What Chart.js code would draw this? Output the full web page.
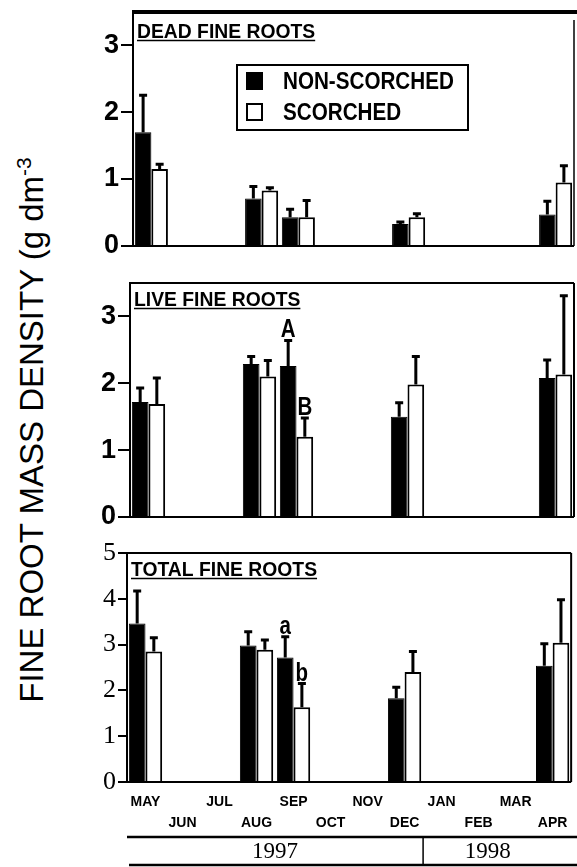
<!DOCTYPE html>
<html>
<head>
<meta charset="utf-8">
<script src="https://cdn.jsdelivr.net/npm/chart.js@4.4.1/dist/chart.umd.min.js"></script>
<style>
  html, body { margin: 0; padding: 0; background: #fff; }
  #page { position: relative; width: 577px; height: 867px; overflow: hidden; }
  canvas { position: absolute; left: 0; }
  #ytitle {
    position: absolute; left: 31px; top: 430px;
    transform: translate(-50%, -50%) rotate(-90deg);
    white-space: nowrap; color: #000;
    font: 33px "Liberation Sans", Arial, sans-serif;
  }
  #ytitle sup { font-size: 21px; }
</style>
</head>
<body>
<div id="page">
  <div id="ytitle">FINE ROOT MASS DENSITY (g dm<sup>-3</sup></div>
  <canvas id="dead" width="577" height="260" style="top:0"></canvas>
  <canvas id="live" width="577" height="260" style="top:270px"></canvas>
  <canvas id="total" width="577" height="327" style="top:540px"></canvas>
</div>
<script>
// months sampled May 1997 - Apr 1998; labels alternate between two rows
const months = ["MAY", "JUN", "JUL", "AUG", "SEP", "OCT", "NOV", "DEC", "JAN", "FEB", "MAR", "APR"];
const years = ["1997", "1998"];
const yearFirstMonth = [0, 8];
const seriesNames = ["NON-SCORCHED", "SCORCHED"];
const deadTicks = [0, 1, 2, 3];
const liveTicks = [0, 1, 2, 3];
const totalTicks = [0, 1, 2, 3, 4, 5];

// dead fine roots (g dm-3) and upper error
const deadNonScorched = [1.70, null, null, 0.71, 0.43, null, null, 0.33, null, null, null, 0.47];
const deadNonScorchedErr = [0.55, null, null, 0.18, 0.12, null, null, 0.03, null, null, null, 0.20];
const deadScorched = [1.15, null, null, 0.83, 0.43, null, null, 0.43, null, null, null, 0.95];
const deadScorchedErr = [0.07, null, null, 0.04, 0.25, null, null, 0.05, null, null, null, 0.25];

// live fine roots
const liveNonScorched = [1.72, null, null, 2.29, 2.26, null, null, 1.50, null, null, null, 2.08];
const liveNonScorchedErr = [0.21, null, null, 0.11, 0.38, null, null, 0.21, null, null, null, 0.27];
const liveScorched = [1.69, null, null, 2.10, 1.20, null, null, 1.98, null, null, null, 2.13];
const liveScorchedErr = [0.39, null, null, 0.24, 0.28, null, null, 0.42, null, null, null, 1.18];
const liveNonScorchedSig = ["", "", "", "", "A", "", "", "", "", "", "", ""];
const liveScorchedSig = ["", "", "", "", "B", "", "", "", "", "", "", ""];

// total fine roots
const totalNonScorched = [3.46, null, null, 2.98, 2.72, null, null, 1.83, null, null, null, 2.54];
const totalNonScorchedErr = [0.71, null, null, 0.30, 0.45, null, null, 0.24, null, null, null, 0.48];
const totalScorched = [2.85, null, null, 2.89, 1.63, null, null, 2.40, null, null, null, 3.04];
const totalScorchedErr = [0.30, null, null, 0.21, 0.52, null, null, 0.45, null, null, null, 0.94];
const totalNonScorchedSig = ["", "", "", "", "a", "", "", "", "", "", "", ""];
const totalScorchedSig = ["", "", "", "", "b", "", "", "", "", "", "", ""];

const monthLabels = months.map((m, i) => (i % 2 === 0 ? m : ["", m]));

// condensed text, the original uses a narrow helvetica
function narrowText(ctx, text, x, y, font, sx, align) {
  ctx.save();
  ctx.font = font;
  ctx.textAlign = align || "left";
  ctx.translate(x, y);
  ctx.scale(sx, 1);
  ctx.fillText(text, 0, 0);
  const w = ctx.measureText(text).width * sx;
  ctx.restore();
  return w;
}

const panelPlugin = {
  id: "panel",
  afterDatasetsDraw(chart, args, opts) {
    const ctx = chart.ctx;
    const ys = chart.scales.y;
    ctx.save();
    ctx.strokeStyle = "#000";
    ctx.fillStyle = "#000";
    chart.data.datasets.forEach((ds, i) => {
      const meta = chart.getDatasetMeta(i);
      meta.data.forEach((bar, j) => {
        const v = ds.data[j];
        if (v == null) return;
        const e = ds.err[j] || 0;
        const yTop = ys.getPixelForValue(v + e);
        ctx.lineWidth = 3;
        ctx.beginPath();
        ctx.moveTo(bar.x, ys.getPixelForValue(v));
        ctx.lineTo(bar.x, yTop);
        ctx.moveTo(bar.x - 4, yTop);
        ctx.lineTo(bar.x + 4, yTop);
        ctx.stroke();
        if (ds.sig && ds.sig[j]) {
          ctx.textBaseline = "alphabetic";
          narrowText(ctx, ds.sig[j], bar.x, yTop - 3, "bold 25px 'Liberation Sans', Arial", 0.82, "center");
        }
      });
    });
    ctx.restore();
  },
  afterDraw(chart, args, opts) {
    const ctx = chart.ctx;
    const a = chart.chartArea;
    ctx.save();
    ctx.strokeStyle = "#000";
    ctx.fillStyle = "#000";
    // frame
    ctx.lineWidth = 2;
    ctx.beginPath();
    ctx.moveTo(a.left, a.bottom);
    ctx.lineTo(a.right, a.bottom);
    ctx.moveTo(a.left, a.top);
    ctx.lineTo(a.left, a.bottom);
    ctx.stroke();
    ctx.lineWidth = opts.openTop ? 1.5 : 2;
    ctx.beginPath();
    ctx.moveTo(a.right, a.top + (opts.openTop ? 5 : 0));
    ctx.lineTo(a.right, a.bottom);
    ctx.stroke();
    if (opts.openTop) {
      ctx.lineWidth = 4;
      ctx.beginPath();
      ctx.moveTo(a.left - 1, a.top - 3);
      ctx.lineTo(chart.width, a.top - 3);
      ctx.stroke();
    } else {
      ctx.lineWidth = 2;
      ctx.beginPath();
      ctx.moveTo(a.left, a.top);
      ctx.lineTo(a.right, a.top);
      ctx.stroke();
    }
    // underlined panel title
    ctx.textBaseline = "alphabetic";
    const tx = a.left + 4, ty = a.top + 23;
    const w = narrowText(ctx, opts.title, tx, ty, "bold 21px 'Liberation Sans', Arial", 0.92);
    ctx.lineWidth = 1.5;
    ctx.beginPath();
    ctx.moveTo(tx, ty + 2.5);
    ctx.lineTo(tx + w, ty + 2.5);
    ctx.stroke();

    if (opts.legend) {
      const lx = a.left + 104, ly = a.top + 50;
      ctx.lineWidth = 2;
      ctx.strokeRect(lx, ly, 231, 65);
      chart.data.datasets.forEach((ds, i) => {
        const cy = ly + 16 + i * 31;
        ctx.fillStyle = ds.backgroundColor;
        ctx.fillRect(lx + 10, cy - 8, 15, 16);
        ctx.lineWidth = 2;
        ctx.strokeRect(lx + 10, cy - 8, 15, 16);
        ctx.fillStyle = "#000";
        ctx.textBaseline = "middle";
        narrowText(ctx, ds.label, lx + 46, cy + 1, "bold 24px 'Liberation Sans', Arial", 0.86);
      });
    }

    if (opts.years) {
      const xs = chart.scales.x;
      const lineY = a.bottom + 55;
      const rowBottom = lineY + 28;
      const div = (xs.getPixelForValue(yearFirstMonth[1] - 1) + xs.getPixelForValue(yearFirstMonth[1])) / 2;
      ctx.lineWidth = 2.5;
      ctx.beginPath();
      ctx.moveTo(a.left, lineY);
      ctx.lineTo(chart.width, lineY);
      ctx.moveTo(a.left + 2, rowBottom);
      ctx.lineTo(chart.width, rowBottom);
      ctx.stroke();
      ctx.lineWidth = 1.5;
      ctx.beginPath();
      ctx.moveTo(div, lineY);
      ctx.lineTo(div, rowBottom);
      ctx.stroke();
      ctx.font = "23px 'Liberation Serif', 'Times New Roman', serif";
      ctx.textAlign = "center";
      ctx.textBaseline = "middle";
      years.forEach((yr, i) => {
        const x0 = i === 0 ? a.left : div;
        const x1 = i === years.length - 1 ? xs.getPixelForValue(months.length - 1) : div;
        ctx.fillText(yr, (x0 + x1) / 2, (lineY + rowBottom) / 2 + 1);
      });
    }
    ctx.restore();
  },
};

function makePanel(id, cfg) {
  return new Chart(document.getElementById(id), {
    type: "bar",
    data: {
      labels: monthLabels,
      datasets: [
        {
          label: seriesNames[0],
          data: cfg.ns,
          err: cfg.nsErr,
          sig: cfg.nsSig,
          backgroundColor: "#000",
          borderColor: "#000",
          borderWidth: 1,
        },
        {
          label: seriesNames[1],
          data: cfg.s,
          err: cfg.sErr,
          sig: cfg.sSig,
          backgroundColor: "#fff",
          borderColor: "#000",
          borderWidth: { top: 2, left: 2, right: 2, bottom: 0 },
        },
      ],
    },
    options: {
      responsive: false,
      maintainAspectRatio: false,
      animation: false,
      layout: { padding: cfg.padding },
      datasets: { bar: { categoryPercentage: 0.9, barPercentage: 1.0 } },
      plugins: {
        legend: { display: false },
        tooltip: { enabled: false },
        panel: { title: cfg.title, openTop: !!cfg.openTop, legend: !!cfg.legend, years: !!cfg.years },
      },
      scales: {
        x: {
          display: !!cfg.years,
          offset: true,
          grid: { display: false, drawTicks: false },
          border: { display: false },
          ticks: {
            autoSkip: false,
            maxRotation: 0,
            minRotation: 0,
            padding: 9.5,
            color: "#000",
            font: { family: "'Liberation Sans', Arial", size: 14, weight: "bold", lineHeight: "21px" },
          },
          afterFit: (s) => { s.height = cfg.years ? 55 : 0; },
        },
        y: {
          min: 0,
          max: cfg.max,
          afterBuildTicks: (s) => { s.ticks = cfg.ticks.map((v) => ({ value: v })); },
          afterFit: (s) => {
            s.width = cfg.axisWidth;
            // tick labels may overhang the plot; keep the plot where the layout padding puts it
            s.paddingTop = 0;
            s.paddingBottom = 0;
          },
          ticks: { color: "#000", padding: 2, font: cfg.tickFont },
          grid: { drawOnChartArea: false, tickLength: cfg.tickLength, color: "#000", lineWidth: 2 },
          border: { display: true, color: "#000", width: 2 },
        },
      },
    },
    plugins: [panelPlugin],
  });
}

const sansTicks = { family: "'Liberation Sans', Arial", size: 27, weight: "bold" };
const serifTicks = { family: "'Liberation Serif', 'Times New Roman', serif", size: 26, weight: "normal" };

makePanel("dead", {
  title: "DEAD FINE ROOTS", openTop: true, legend: true,
  ns: deadNonScorched, nsErr: deadNonScorchedErr, s: deadScorched, sErr: deadScorchedErr,
  max: 3.45, ticks: deadTicks, axisWidth: 133, tickLength: 12, tickFont: sansTicks,
  padding: { top: 15, bottom: 14, left: 0, right: 3 },
});

makePanel("live", {
  title: "LIVE FINE ROOTS",
  ns: liveNonScorched, nsErr: liveNonScorchedErr, nsSig: liveNonScorchedSig,
  s: liveScorched, sErr: liveScorchedErr, sSig: liveScorchedSig,
  max: 3.5, ticks: liveTicks, axisWidth: 130, tickLength: 12, tickFont: sansTicks,
  padding: { top: 13, bottom: 13, left: 0, right: 3 },
});

makePanel("total", {
  title: "TOTAL FINE ROOTS", years: true,
  ns: totalNonScorched, nsErr: totalNonScorchedErr, nsSig: totalNonScorchedSig,
  s: totalScorched, sErr: totalScorchedErr, sSig: totalScorchedSig,
  max: 5, ticks: totalTicks, axisWidth: 127, tickLength: 9, tickFont: serifTicks,
  padding: { top: 13, bottom: 30, left: 0, right: 2 },
});
</script>
</body>
</html>
